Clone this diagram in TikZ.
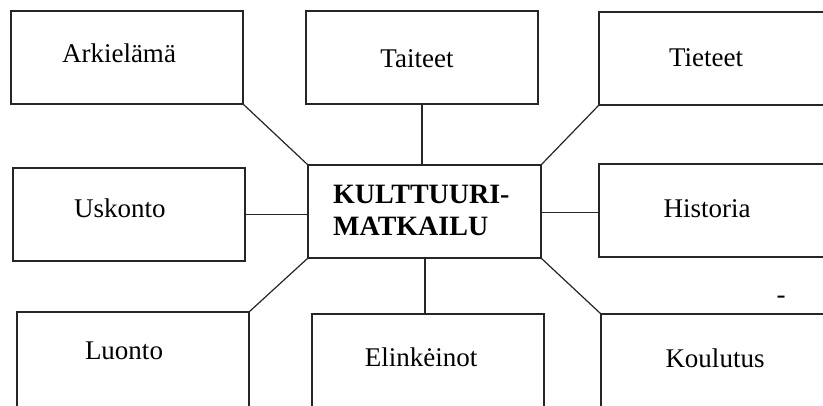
\documentclass[tikz,border=0pt]{standalone}
\usepackage{fontspec}
\setmainfont{Liberation Serif}
\begin{document}
\begin{tikzpicture}[x=1pt,y=-1pt,
  box/.style={draw=black!85,line width=1.6pt,minimum width=232pt,minimum height=93pt,inner sep=0pt,outer sep=0pt,anchor=north west},
  lbl/.style={anchor=base,inner sep=0pt,font=\fontsize{27}{32}\selectfont},
  clbl/.style={anchor=base west,inner sep=0pt,font=\fontsize{28}{32}\selectfont\bfseries},
  conn/.style={draw=black!85,line width=1.2pt}]
\useasboundingbox (0,0) rectangle (823,405);
\clip (0,0) rectangle (823,405);
\fill[white] (0,0) rectangle (823,405);
% boxes
\node[box] (ark) at (11,11) {};
\node[box] (tai) at (306,11) {};
\node[box] (tie) at (599,12) {};
\node[box] (usk) at (13,168) {};
\node[box,minimum width=233pt] (cen) at (308,165) {};
\node[box] (his) at (599,164) {};
\node[box,minimum height=110pt] (luo) at (17,312) {};
\node[box,minimum height=110pt] (eli) at (312,314) {};
\node[box,minimum height=110pt] (kou) at (601,314) {};
% texts
\node[lbl] (tark) at (119,62) {Arkielämä};
\node[lbl] (ttai) at (417,67) {Taiteet};
\node[lbl] (ttie) at (706,66) {Tieteet};
\node[lbl] (tusk) at (120,217) {Uskonto};
\node[lbl] (this) at (707,217) {Historia};
\node[lbl] (tluo) at (124,359) {Luonto};
\node[lbl] (teli) at (421,366) {Elinkėinot};
\node[lbl] (tkou) at (715,367) {Koulutus};
\node[clbl] (tcen1) at (333,203) {KULTTUURI-};
\node[clbl] (tcen2) at (333,235) {MATKAILU};
\node[lbl] (dash) at (781,303) {-};
% connectors
\draw[conn] (ark.south east) -- (cen.north west);
\draw[conn] (tai.south) -- (tai.south |- cen.north);
\draw[conn] (tie.south west) -- (cen.north east);
\draw[conn] (usk.east) -- (usk.east -| cen.west);
\draw[conn] ([yshift=-2pt]his.west) -- ([yshift=-2pt]his.west -| cen.east);
\draw[conn] (luo.north east) -- (cen.south west);
\draw[conn] ([xshift=-3pt]eli.north) -- ([xshift=-3pt]eli.north |- cen.south);
\draw[conn] (kou.north west) -- (cen.south east);
\end{tikzpicture}
\end{document}
